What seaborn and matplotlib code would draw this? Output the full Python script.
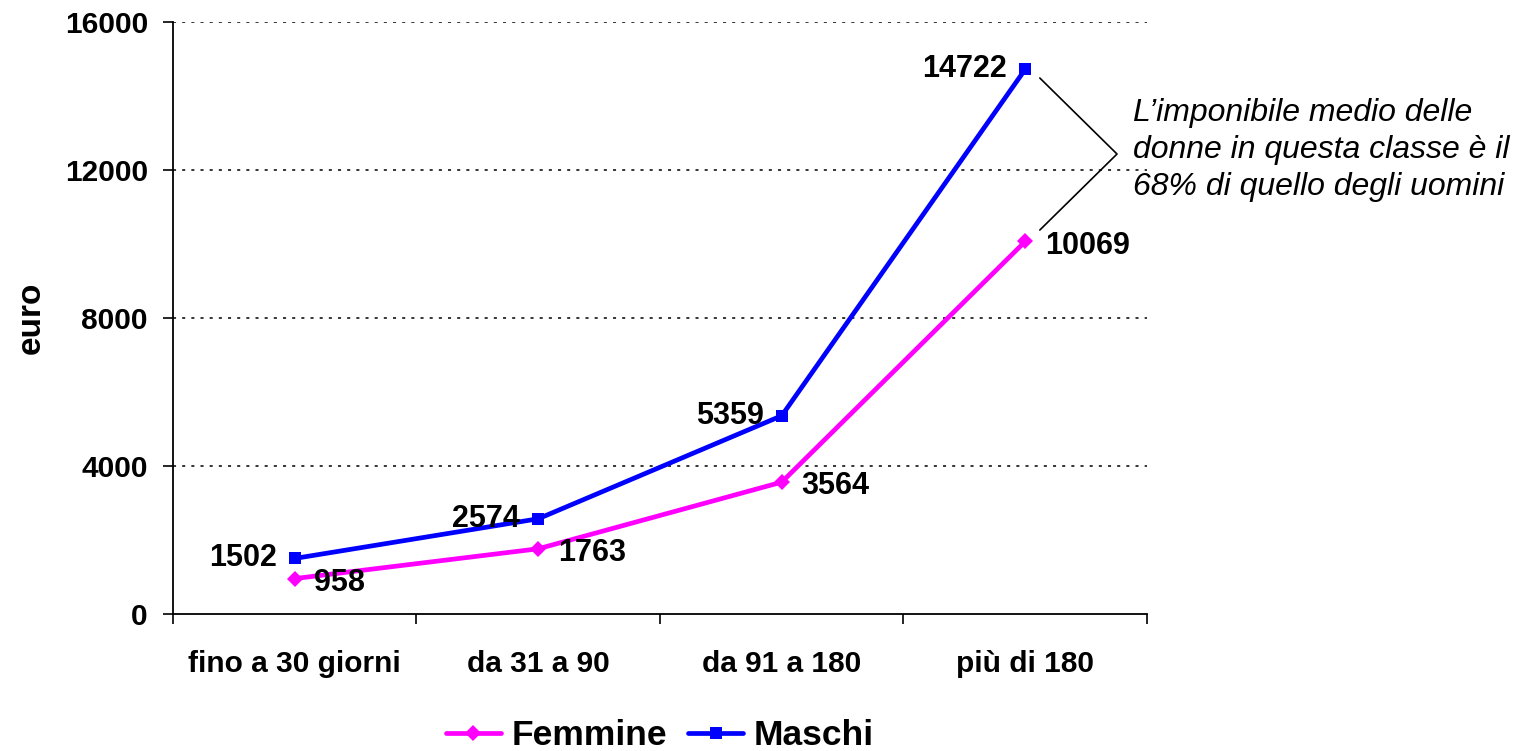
import numpy as np
import pandas as pd
import matplotlib
matplotlib.use("Agg")
import matplotlib.pyplot as plt
from matplotlib.lines import Line2D
import seaborn as sns

categories = ["fino a 30 giorni", "da 31 a 90", "da 91 a 180", "più di 180"]
femmine = [958, 1763, 3564, 10069]
maschi = [1502, 2574, 5359, 14722]
yticks = [0, 4000, 8000, 12000, 16000]
annotation_text = "L\u2019imponibile medio delle\ndonne in questa classe è il\n68% di quello degli uomini"

sns.set_theme(style="white")
plt.rcParams["font.family"] = ["Liberation Sans", "DejaVu Sans"]
plt.rcParams.update({"text.color": "black", "axes.labelcolor": "black",
                     "xtick.color": "black", "ytick.color": "black"})

df = pd.DataFrame({
    "pos": list(range(len(categories))) * 2,
    "euro": femmine + maschi,
    "sesso": ["Femmine"] * len(categories) + ["Maschi"] * len(categories),
})

fig = plt.figure(figsize=(15.24, 7.51), dpi=100)
ax = fig.add_axes([0.1135, 0.1824, 0.6391, 0.7883])

sns.lineplot(data=df, x="pos", y="euro", hue="sesso", style="sesso",
             palette={"Femmine": "#FF00FF", "Maschi": "#0000FF"},
             markers={"Femmine": "D", "Maschi": "s"}, dashes=False,
             linewidth=3.4, markersize=8, markeredgewidth=0, ax=ax, legend=False)

ax.set_xlim(-0.5, len(categories) - 0.5)
ax.set_ylim(0, 16000)
ax.set_yticks(yticks)
ax.set_yticklabels([str(v) for v in yticks], fontsize=21.5, fontweight="bold")
ax.set_xticks(range(len(categories)))
ax.set_xticklabels(categories, fontsize=21.5, fontweight="bold")
ax.set_xticks(np.arange(-0.5, len(categories), 1.0), minor=True)
ax.tick_params(axis="both", which="both", bottom=True, left=True)
ax.tick_params(axis="x", which="major", length=0, pad=26)
ax.tick_params(axis="x", which="minor", length=7, width=1.2, color="black", direction="out")
ax.tick_params(axis="y", which="major", length=7, width=1.2, color="black", direction="out", pad=11)
ax.set_xlabel("")
ax.set_ylabel("euro", fontsize=24, fontweight="bold", labelpad=13)

for s in ["top", "right"]:
    ax.spines[s].set_visible(False)
for s in ["left", "bottom"]:
    ax.spines[s].set_color("black")
    ax.spines[s].set_linewidth(1.3)

for v in yticks[1:]:
    ax.axhline(v, color="black", linestyle=(0, (2, 4)), linewidth=1.1, zorder=0)

# data labels
for i, v in enumerate(maschi):
    ax.annotate(str(v), (i, v), xytext=(-13, 0), textcoords="offset points",
                ha="right", va="center", fontsize=22, fontweight="bold")
for i, v in enumerate(femmine):
    ax.annotate(str(v), (i, v), xytext=(14, -3), textcoords="offset points",
                ha="left", va="center", fontsize=22, fontweight="bold")

# bracket annotation
ax.plot([3.06, 3.377, 3.06], [14486, 12432, 10378], color="black", linewidth=1.2,
        clip_on=False)
fig.text(0.7435, 0.870, annotation_text, fontsize=23, fontstyle="italic",
         ha="left", va="top", linespacing=1.32)

# legend
handles = [
    Line2D([], [], color="#FF00FF", marker="D", markersize=8, linewidth=3.4, markeredgewidth=0),
    Line2D([], [], color="#0000FF", marker="s", markersize=8, linewidth=3.4, markeredgewidth=0),
]
fig.legend(handles, ["Femmine", "Maschi"], loc="center", bbox_to_anchor=(0.433, 0.02),
           ncol=2, frameon=False, prop={"size": 25.5, "weight": "bold"},
           handlelength=1.55, handletextpad=0.3, columnspacing=0.6)

fig.savefig("out.png", dpi=100)
